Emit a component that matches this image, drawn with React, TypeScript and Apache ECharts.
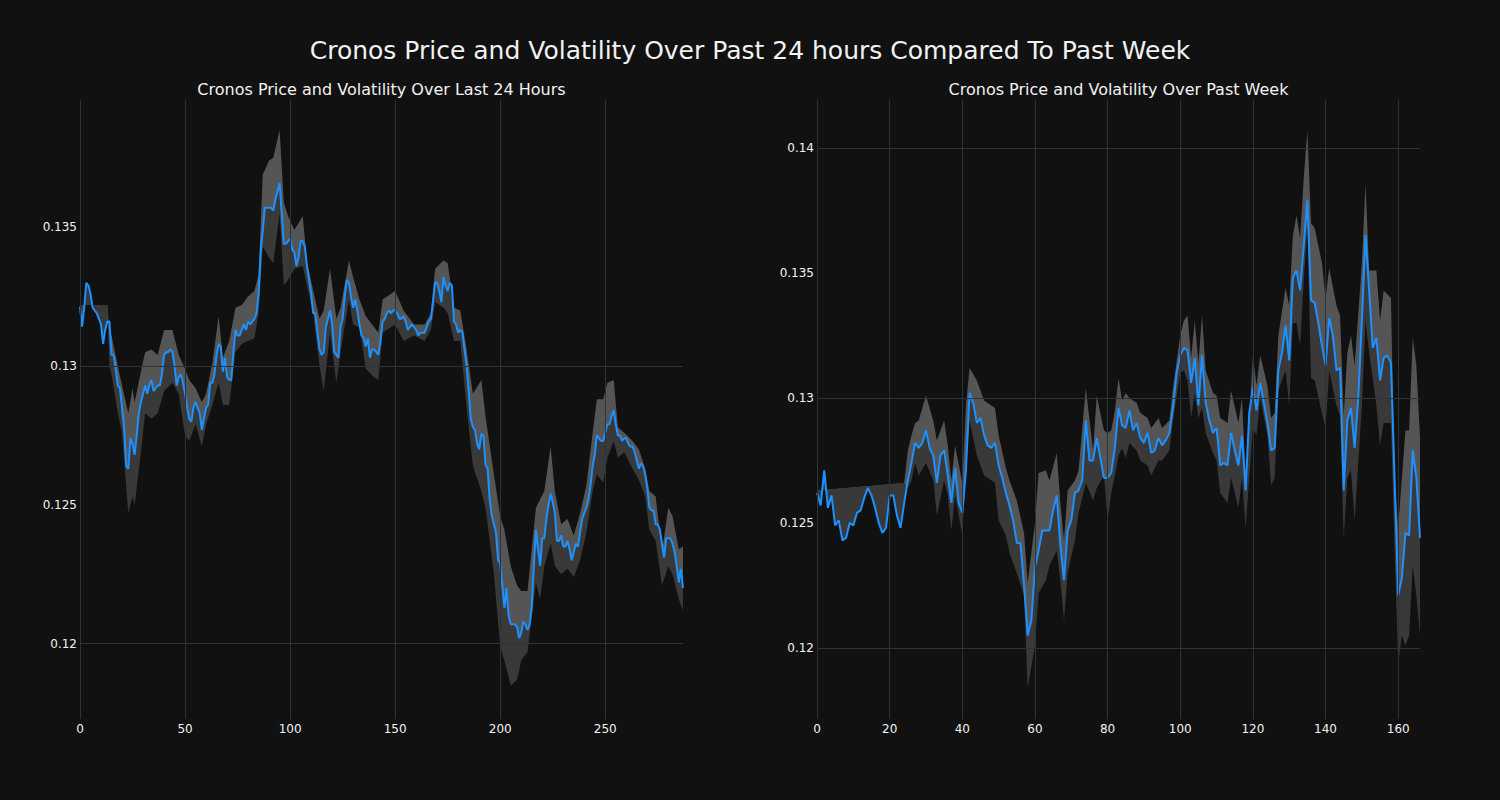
import { useEffect, useRef } from "react";
import * as echarts from "echarts";

// ---------- Last 24 hours (5-minute steps) ----------
const dayPrice = [
  0.13214, 0.13142, 0.1321, 0.133, 0.1329, 0.1326, 0.1321, 0.132, 0.1319, 0.1317,
  0.1315, 0.1308, 0.1313, 0.1316, 0.1316, 0.1304, 0.1304, 0.1299, 0.1293, 0.1292,
  0.1285, 0.1278, 0.1264, 0.1263, 0.1274, 0.1272, 0.1268, 0.1275, 0.1283, 0.1287,
  0.129, 0.1293, 0.129, 0.1293, 0.1295, 0.1291, 0.1292, 0.1293, 0.1293, 0.1297,
  0.1304, 0.1305, 0.1305, 0.1306, 0.1305, 0.13, 0.1293, 0.1296, 0.1297, 0.1294,
  0.129, 0.1285, 0.1281, 0.128, 0.1285, 0.1287, 0.1285, 0.1283, 0.1277, 0.1281,
  0.1285, 0.1286, 0.1294, 0.1294, 0.1297, 0.1304, 0.1308, 0.1307, 0.1298, 0.1303,
  0.1296, 0.1295, 0.1295, 0.1305, 0.1313, 0.1311, 0.1311, 0.1313, 0.1315, 0.1313,
  0.1316, 0.1315, 0.1316, 0.1317, 0.1319, 0.1326, 0.1341, 0.1349, 0.1357, 0.1357,
  0.1357, 0.1357, 0.1356, 0.136, 0.1363, 0.1366, 0.1355, 0.1344, 0.1344, 0.1345,
  0.1346, 0.1342, 0.1341, 0.1336, 0.1339, 0.1345, 0.1345, 0.1343, 0.1336, 0.1331,
  0.1326, 0.1319, 0.1319, 0.1312, 0.1306, 0.1304, 0.1305, 0.1314, 0.1317, 0.132,
  0.1315, 0.1305, 0.1304, 0.1303, 0.1314, 0.1317, 0.1325, 0.1331, 0.133, 0.1325,
  0.1321, 0.1324, 0.132, 0.1315, 0.1311, 0.131, 0.1307, 0.131, 0.1303, 0.1306,
  0.1306, 0.1305, 0.1304, 0.1309, 0.1316, 0.1317, 0.1319, 0.132, 0.1319, 0.132,
  0.132, 0.1319, 0.1317, 0.1317, 0.1318, 0.1316, 0.1313, 0.1314, 0.1315, 0.1314,
  0.1313, 0.1311, 0.1312, 0.1312, 0.1312, 0.1314, 0.1316, 0.1317, 0.1323, 0.133,
  0.133, 0.1327, 0.1323, 0.1332, 0.1329, 0.1327, 0.133, 0.1329, 0.1316, 0.1315,
  0.1312, 0.1313, 0.1312, 0.1306, 0.13, 0.1291, 0.1281, 0.1278, 0.1277, 0.1272,
  0.127, 0.12755, 0.1275, 0.12645, 0.1263, 0.1252, 0.1246, 0.1243, 0.124, 0.123,
  0.1229, 0.1221, 0.1213, 0.122, 0.121, 0.1207, 0.1207, 0.1207, 0.1206, 0.1202,
  0.1204, 0.1208, 0.1207, 0.1205, 0.1207, 0.1213, 0.1228, 0.1241, 0.1234, 0.1228,
  0.1238, 0.1238, 0.1245, 0.125, 0.1254, 0.1251, 0.1247, 0.1237, 0.1237, 0.1239,
  0.1235, 0.1235, 0.1237, 0.1234, 0.123, 0.1233, 0.1236, 0.1235, 0.124, 0.1245,
  0.1247, 0.1249, 0.1252, 0.1257, 0.1264, 0.1268, 0.1275, 0.1274, 0.1273, 0.1273,
  0.1276, 0.1279, 0.1279, 0.1282, 0.1284, 0.1279, 0.1275, 0.1275, 0.1273, 0.1274,
  0.1274, 0.1272, 0.1271, 0.1271, 0.1269, 0.1266, 0.1263, 0.1265, 0.1264, 0.1261,
  0.1256, 0.1249, 0.1248, 0.1248, 0.1243, 0.1243, 0.1241, 0.1236, 0.1231, 0.1238,
  0.1238, 0.1238, 0.1236, 0.1233, 0.1228, 0.1222, 0.1227, 0.122,
];
const dayBandX = [
  0, 13, 14, 15, 18, 20, 23, 25, 26, 29, 31, 34, 37, 40, 44, 47, 50, 52, 55, 58,
  60, 63, 66, 68, 71, 74, 77, 80, 83, 85, 87, 90, 92, 95, 97, 99, 102, 106, 108, 111,
  114, 116, 119, 122, 124, 128, 130, 133, 136, 140, 142, 144, 150, 154, 159, 164, 167, 169, 173, 175,
  178, 181, 184, 187, 191, 193, 197, 200, 202, 205, 208, 210, 213, 217, 219, 221, 224, 226, 229, 232,
  235, 238, 241, 244, 246, 249, 251, 254, 256, 259, 263, 266, 269, 271, 274, 277, 280, 282, 285, 287,
];
const dayBandHi = [
  0.1322, 0.1322, 0.1312, 0.1311, 0.13, 0.1293, 0.1283, 0.1292, 0.1287, 0.1298,
  0.1305, 0.1306, 0.1304, 0.1313, 0.1313, 0.1304, 0.1299, 0.1295, 0.1292, 0.1287,
  0.129, 0.1301, 0.1318, 0.1303, 0.1309, 0.1321, 0.1322, 0.1325, 0.1327, 0.1333,
  0.1369, 0.1374, 0.1375, 0.1385, 0.1359, 0.1354, 0.1349, 0.1354, 0.1338, 0.1327,
  0.1317, 0.132, 0.1335, 0.1317, 0.1321, 0.1338, 0.1332, 0.1324, 0.1318, 0.1314,
  0.1312, 0.1324, 0.1327, 0.132, 0.1315, 0.1315, 0.1319, 0.1335, 0.1338, 0.1337,
  0.1321, 0.132, 0.1306, 0.129, 0.1295, 0.1282, 0.1261, 0.1246, 0.1241, 0.1228,
  0.1221, 0.1219, 0.1219, 0.1249, 0.1252, 0.1255, 0.1271, 0.1255, 0.1243, 0.1245,
  0.1239, 0.1247, 0.1257, 0.1276, 0.1288, 0.1288, 0.1294, 0.1295, 0.1278, 0.1276,
  0.1273, 0.127, 0.1263, 0.1255, 0.1253, 0.1233, 0.1249, 0.1246, 0.1234, 0.1235,
];
const dayBandLo = [
  0.1322, 0.1322, 0.13, 0.1297, 0.1283, 0.1276, 0.1247, 0.1253, 0.125, 0.1269,
  0.1283, 0.1281, 0.1283, 0.1291, 0.1294, 0.129, 0.1275, 0.1273, 0.1279, 0.1271,
  0.1279, 0.1286, 0.1294, 0.1286, 0.1286, 0.1305, 0.1308, 0.1309, 0.131, 0.1319,
  0.1343, 0.1339, 0.1337, 0.1355, 0.1329, 0.1331, 0.1335, 0.1336, 0.1329, 0.1319,
  0.13, 0.1291, 0.1312, 0.1294, 0.1305, 0.1324, 0.1315, 0.1314, 0.1299, 0.1296,
  0.1295, 0.1312, 0.1315, 0.1309, 0.1311, 0.1309, 0.1313, 0.1323, 0.1321, 0.1319,
  0.1309, 0.1309, 0.1285, 0.1264, 0.1255, 0.1249, 0.1225, 0.1199, 0.1194, 0.1185,
  0.1187, 0.1194, 0.1197, 0.1222, 0.1216, 0.1228, 0.1236, 0.1228, 0.1225, 0.1227,
  0.1224, 0.123, 0.124, 0.1255, 0.1261, 0.1258, 0.1267, 0.1273, 0.1267, 0.1269,
  0.1263, 0.1259, 0.1253, 0.1241, 0.1237, 0.1221, 0.1228, 0.1225, 0.1216, 0.1212,
];
const dayXTicks = [0, 50, 100, 150, 200, 250];
const dayYTicks = [0.12, 0.125, 0.13, 0.135];

// ---------- Past week (hourly steps) ----------
const weekPrice = [
  0.1262, 0.1257, 0.1271, 0.1256, 0.1261, 0.1249, 0.1251, 0.1243, 0.1244, 0.125,
  0.1249, 0.1254, 0.1255, 0.126, 0.1264, 0.1261, 0.1256, 0.125, 0.1246, 0.1248,
  0.1261, 0.1261, 0.1253, 0.1248, 0.1258, 0.1267, 0.1274, 0.1282, 0.128, 0.1282,
  0.1287, 0.128, 0.1277, 0.1266, 0.1277, 0.1279, 0.1269, 0.1258, 0.1272, 0.1258,
  0.1254, 0.1271, 0.1302, 0.1298, 0.129, 0.1292, 0.1285, 0.1281, 0.128, 0.1282,
  0.1273, 0.1268, 0.1262, 0.1257, 0.1251, 0.1242, 0.1242, 0.1225, 0.1205, 0.1211,
  0.1232, 0.1239, 0.1247, 0.1247, 0.1247, 0.1255, 0.1261, 0.1241, 0.1227, 0.1247,
  0.1251, 0.1262, 0.1263, 0.1267, 0.1291, 0.1275, 0.1275, 0.1284, 0.1276, 0.1268,
  0.1268, 0.127, 0.128, 0.1296, 0.1289, 0.1288, 0.1295, 0.1287, 0.129, 0.1284,
  0.1282, 0.1286, 0.1278, 0.1279, 0.1284, 0.1281, 0.1283, 0.1286, 0.1296, 0.131,
  0.1317, 0.132, 0.1319, 0.1306, 0.1316, 0.1297, 0.1317, 0.1298, 0.1291, 0.1286,
  0.1288, 0.1273, 0.1274, 0.1273, 0.1286, 0.1279, 0.1273, 0.1285, 0.1263, 0.1294,
  0.1304, 0.1295, 0.1306, 0.1298, 0.129, 0.1279, 0.128, 0.1311, 0.1318, 0.1329,
  0.1315, 0.1348, 0.1351, 0.1343, 0.1361, 0.1379, 0.1339, 0.1338, 0.133, 0.1321,
  0.1313, 0.1332, 0.1325, 0.1311, 0.1312, 0.1263, 0.1291, 0.1296, 0.128, 0.13,
  0.1331, 0.1365, 0.1343, 0.132, 0.1324, 0.1307, 0.1316, 0.1317, 0.1314, 0.1268,
  0.1221, 0.1228, 0.1246, 0.1245, 0.1279, 0.1268, 0.1244,
];
const weekBandX = [
  0, 24, 25, 26, 27, 28, 30, 32, 33, 35, 36, 37, 38, 40, 41, 42, 44, 46, 49, 50,
  52, 53, 55, 57, 58, 60, 61, 63, 64, 66, 67, 68, 69, 71, 72, 74, 76, 77, 79, 80,
  81, 82, 83, 84, 85, 86, 88, 89, 91, 92, 94, 95, 97, 98, 100, 101, 102, 103, 104, 105,
  106, 107, 109, 110, 111, 113, 114, 116, 117, 118, 120, 121, 122, 124, 125, 126, 127, 129, 130, 131,
  132, 133, 134, 135, 136, 137, 139, 140, 141, 143, 144, 145, 146, 147, 148, 150, 151, 152, 154, 155,
  156, 158, 159, 160, 161, 162, 163, 164, 165, 166,
];
const weekBandHi = [
  0.1263, 0.1266, 0.1279, 0.1285, 0.129, 0.1291, 0.1301, 0.1291, 0.1283, 0.1291,
  0.1281, 0.1267, 0.1281, 0.1266, 0.1297, 0.1312, 0.1307, 0.1299, 0.1296, 0.1285,
  0.1272, 0.1267, 0.1259, 0.1246, 0.1226, 0.125, 0.127, 0.1271, 0.1267, 0.1278,
  0.1258, 0.1243, 0.1263, 0.1267, 0.1271, 0.1304, 0.1279, 0.1301, 0.1287, 0.1286,
  0.1287, 0.1295, 0.1308, 0.1299, 0.1302, 0.13, 0.1298, 0.1294, 0.1292, 0.1288,
  0.1292, 0.1288, 0.1291, 0.1304, 0.1325, 0.1331, 0.1333, 0.1316, 0.1331, 0.1314,
  0.1333, 0.1311, 0.1302, 0.1301, 0.1292, 0.129, 0.1303, 0.129, 0.13, 0.1268,
  0.1317, 0.1305, 0.1317, 0.1305, 0.1292, 0.1294, 0.1325, 0.1344, 0.1337, 0.1365,
  0.1373, 0.1364, 0.1388, 0.1407, 0.137, 0.1368, 0.1354, 0.134, 0.1352, 0.1337,
  0.1333, 0.1293, 0.1318, 0.1325, 0.1313, 0.1354, 0.1386, 0.1351, 0.1351, 0.1331,
  0.1343, 0.134, 0.1268, 0.1248, 0.1268, 0.1287, 0.1287, 0.1324, 0.1313, 0.1284,
];
const weekBandLo = [
  0.1263, 0.1266, 0.1264, 0.1267, 0.1274, 0.1269, 0.1274, 0.1267, 0.1253, 0.1267,
  0.1261, 0.1247, 0.1261, 0.1245, 0.1271, 0.1291, 0.1277, 0.1269, 0.1266, 0.1251,
  0.1245, 0.1238, 0.123, 0.1221, 0.1184, 0.1201, 0.1222, 0.1227, 0.1233, 0.1239,
  0.1227, 0.1211, 0.123, 0.1243, 0.1254, 0.1266, 0.1259, 0.1264, 0.1269, 0.1251,
  0.1262, 0.1269, 0.1277, 0.128, 0.1276, 0.1282, 0.1279, 0.1275, 0.1273, 0.1269,
  0.1275, 0.1275, 0.1279, 0.1291, 0.131, 0.1311, 0.1307, 0.1292, 0.1302, 0.1292,
  0.1296, 0.1286, 0.1278, 0.1275, 0.1262, 0.1258, 0.1268, 0.1256, 0.1268, 0.1248,
  0.1288, 0.1285, 0.13, 0.1285, 0.1265, 0.1268, 0.1303, 0.1311, 0.1297, 0.133,
  0.133, 0.1321, 0.1347, 0.1368, 0.1308, 0.1307, 0.1294, 0.1288, 0.1311, 0.1297,
  0.1293, 0.1244, 0.1268, 0.1271, 0.1251, 0.1297, 0.1331, 0.1318, 0.1297, 0.1281,
  0.129, 0.129, 0.124, 0.1194, 0.1205, 0.1201, 0.1205, 0.1233, 0.1221, 0.1205,
];
const weekXTicks = [0, 20, 40, 60, 80, 100, 120, 140, 160];
const weekYTicks = [0.12, 0.125, 0.13, 0.135, 0.14];

const mainTitle = "Cronos Price and Volatility Over Past 24 hours Compared To Past Week";
const dayTitle = "Cronos Price and Volatility Over Last 24 Hours";
const weekTitle = "Cronos Price and Volatility Over Past Week";

const BG = "#111111";
const GRID = "#2b333d";
const TXT = "#f2f2f2";
const LINE = "#1e90ff";
const UPPER_FILL = "#555555";
const LOWER_FILL = "#393939";
const FONT = "DejaVu Sans";

function bandRenderer(bx: number[], hi: number[], lo: number[], price: number[]) {
  return (params: any, api: any) => {
    if (params.dataIndex !== 0) return null;
    const up = bx.map((x, k) => api.coord([x, hi[k]]));
    const dn = bx.map((x, k) => api.coord([x, lo[k]]));
    const pr = price.map((v, k) => api.coord([k, v]));
    const upperPoly = up.concat(pr.slice().reverse());
    const lowerPoly = pr.concat(dn.slice().reverse());
    return {
      type: "group",
      children: [
        { type: "polygon", shape: { points: upperPoly }, style: { fill: UPPER_FILL } },
        { type: "polygon", shape: { points: lowerPoly }, style: { fill: LOWER_FILL } },
      ],
    };
  };
}

function panelSeries(idx: number, price: number[], bx: number[], hi: number[], lo: number[], xt: number[], yt: number[]) {
  return [
    {
      type: "custom",
      xAxisIndex: idx,
      yAxisIndex: idx,
      z: 1,
      silent: true,
      renderItem: bandRenderer(bx, hi, lo, price),
      data: [[0, price[0]]],
      encode: { x: 0, y: 1 },
    },
    {
      type: "line",
      xAxisIndex: idx,
      yAxisIndex: idx,
      z: 2,
      silent: true,
      data: [],
      markLine: {
        silent: true,
        symbol: ["none", "none"],
        label: { show: false },
        lineStyle: { color: GRID, width: 1, type: "solid" },
        emphasis: { disabled: true },
        data: [...xt.map((v) => ({ xAxis: v })), ...yt.map((v) => ({ yAxis: v }))],
      },
    },
    {
      type: "line",
      xAxisIndex: idx,
      yAxisIndex: idx,
      z: 3,
      silent: true,
      showSymbol: false,
      lineStyle: { color: LINE, width: 2 },
      data: price.map((v, i) => [i, v]),
    },
  ];
}

const fmt = (v: number) => String(parseFloat(Number(v).toFixed(4)));

function xAxisCfg(idx: number, max: number, ticks: number[]) {
  return {
    type: "value",
    gridIndex: idx,
    min: 0,
    max,
    axisLine: { show: false },
    axisTick: { show: false },
    splitLine: { show: false },
    axisLabel: {
      customValues: ticks,
      color: TXT,
      fontSize: 12,
      fontFamily: FONT,
      margin: 4,
      formatter: (v: number) => String(v),
    },
  };
}

function yAxisCfg(idx: number, min: number, max: number, ticks: number[]) {
  return {
    type: "value",
    gridIndex: idx,
    min,
    max,
    axisLine: { show: false },
    axisTick: { show: false },
    splitLine: { show: false },
    axisLabel: {
      customValues: ticks,
      color: TXT,
      fontSize: 12,
      fontFamily: FONT,
      margin: 3,
      formatter: fmt,
    },
  };
}

export default function App() {
  const ref = useRef<HTMLDivElement>(null);
  useEffect(() => {
    if (!ref.current) return;
    const chart = echarts.init(ref.current, null, { renderer: "svg" });
    chart.setOption({
      animation: false,
      backgroundColor: BG,
      grid: [
        { left: 80, top: 100, width: 603, height: 619 },
        { left: 817, top: 100, width: 603, height: 619 },
      ],
      xAxis: [xAxisCfg(0, 287, dayXTicks), xAxisCfg(1, 166, weekXTicks)],
      yAxis: [yAxisCfg(0, 0.11729, 0.13958, dayYTicks), yAxisCfg(1, 0.117156, 0.141916, weekYTicks)],
      graphic: [
        {
          type: "text",
          x: 750,
          y: 50,
          silent: true,
          style: { text: mainTitle, fill: TXT, font: `25px "${FONT}"`, align: "center", verticalAlign: "middle", textAlign: "center", textVerticalAlign: "middle" },
        },
        {
          type: "text",
          x: 381.5,
          y: 89,
          silent: true,
          style: { text: dayTitle, fill: TXT, font: `16px "${FONT}"`, align: "center", verticalAlign: "middle", textAlign: "center", textVerticalAlign: "middle" },
        },
        {
          type: "text",
          x: 1118.5,
          y: 89,
          silent: true,
          style: { text: weekTitle, fill: TXT, font: `16px "${FONT}"`, align: "center", verticalAlign: "middle", textAlign: "center", textVerticalAlign: "middle" },
        },
      ],
      series: [
        ...panelSeries(0, dayPrice, dayBandX, dayBandHi, dayBandLo, dayXTicks, dayYTicks),
        ...panelSeries(1, weekPrice, weekBandX, weekBandHi, weekBandLo, weekXTicks, weekYTicks),
      ],
    });
    return () => chart.dispose();
  }, []);
  return (
    <div
      ref={ref}
      style={{ position: "absolute", left: 0, top: 0, width: 1500, height: 800, background: BG }}
    />
  );
}
